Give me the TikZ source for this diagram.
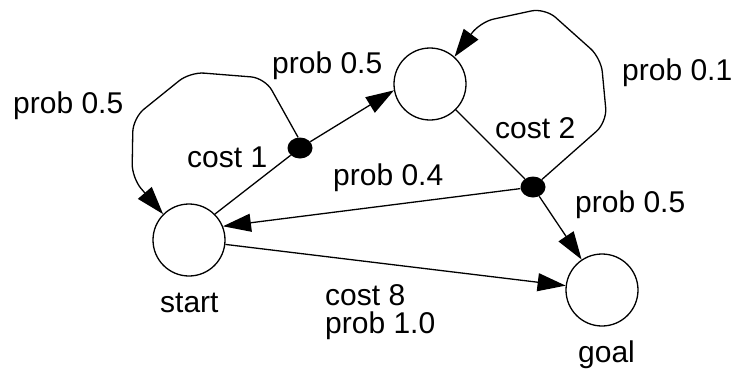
\documentclass[tikz,border=0pt]{standalone}
\usepackage{fontspec}
\setmainfont{Liberation Sans}
\usetikzlibrary{arrows.meta,shapes.geometric}
\begin{document}
\begin{tikzpicture}[x=1pt,y=-1pt,
   stnode/.style={circle,draw,line width=1.3pt,minimum size=72pt,inner sep=0pt},
   chance/.style={ellipse,fill=black,minimum width=25pt,minimum height=21pt,inner sep=0pt},
   lbl/.style={anchor=base west,inner sep=0pt,font=\fontsize{30}{28.5}\selectfont},
   wire/.style={line width=1.3pt},
   arr/.style={wire,-{Triangle[length=28pt,width=18pt]}},
   selfarr/.style={arr,rounded corners=14pt}]
 \useasboundingbox (0,0) rectangle (737,373);
 \node[stnode] (start) at (189,240) {};
 \node[stnode] (mid) at (430,84) {};
 \node[stnode] (goal) at (602,290) {};
 \node[chance] (c1) at (300,148) {};
 \node[chance] (c2) at (533,187) {};
 \draw[wire] (start.45) -- (c1);
 \draw[arr] (c1) -- (mid.190);
 \draw[wire] (mid) -- (c2);
 \draw[arr] (c2) -- (goal);
 \draw[arr] (c2) -- (start.22);
 \draw[arr] (start) -- (goal);
 \draw[selfarr] (c1.100) -- (265,78) -- (190,72) -- (133,118) -- (132,178) -- (start.north west);
 \draw[selfarr] (c2.north east) -- (607,122) -- (601,58) -- (545,8) -- (480,22) -- (mid.48);
 \node[lbl] (p1) at (13,113) {prob 0.5};
 \node[lbl] (p2) at (272,73) {prob 0.5};
 \node[lbl] (k1) at (187,167) {cost 1};
 \node[lbl] (p3) at (622,80) {prob 0.1};
 \node[lbl] (k2) at (495,138) {cost 2};
 \node[lbl] (p4) at (333,185) {prob 0.4};
 \node[lbl] (p5) at (575,212) {prob 0.5};
 \node[lbl] (ls) at (160,312) {start};
 \node[lbl,anchor=north west,align=left] (k3) at (325,284) {cost 8\\prob 1.0};
 \node[lbl] (lg) at (578,362) {goal};
\end{tikzpicture}
\end{document}
